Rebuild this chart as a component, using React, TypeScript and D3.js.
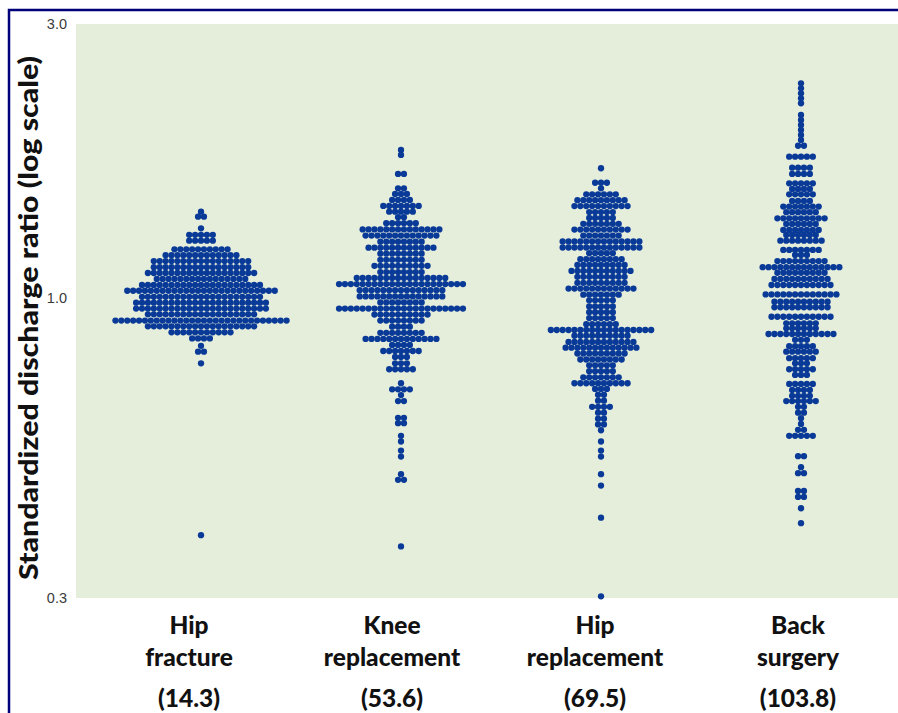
import React, { useEffect, useRef } from "react";
import * as d3 from "d3";

// Procedures shown along the x axis
const categories = ["Hip fracture", "Knee replacement", "Hip replacement", "Back surgery"];
const labelLines = [
  ["Hip", "fracture"],
  ["Knee", "replacement"],
  ["Hip", "replacement"],
  ["Back", "surgery"],
];
const procedureRates = ["(14.3)", "(53.6)", "(69.5)", "(103.8)"];
const yTicks = [0.3, 1.0, 3.0];

// Each row: [standardized discharge ratio, number of hospitals in that row]
const hipFracture: [number, number][] = [
  [1.413, 1], [1.385, 2], [1.322, 1], [1.288, 5], [1.258, 5],
  [1.215, 10], [1.187, 13], [1.159, 17], [1.131, 17], [1.105, 19],
  [1.079, 16], [1.053, 21], [1.029, 26], [1.004, 21], [0.981, 23],
  [0.958, 23], [0.936, 19], [0.913, 30], [0.892, 19], [0.871, 11],
  [0.850, 4], [0.825, 1], [0.806, 2], [0.769, 1], [0.386, 1],
];

const kneeReplacement: [number, number][] = [
  [1.810, 1], [1.774, 1], [1.644, 2], [1.552, 2], [1.517, 3], [1.481, 4],
  [1.446, 7], [1.413, 5], [1.382, 2], [1.349, 6], [1.316, 14], [1.284, 13],
  [1.253, 8], [1.223, 12], [1.194, 8], [1.165, 8], [1.137, 10], [1.109, 8],
  [1.083, 16], [1.057, 22], [1.031, 15], [1.006, 15], [0.982, 8], [0.958, 22],
  [0.935, 10], [0.913, 8], [0.891, 4], [0.869, 8], [0.848, 13], [0.828, 4],
  [0.808, 7], [0.789, 3], [0.769, 3], [0.751, 5], [0.710, 1], [0.693, 4],
  [0.677, 1], [0.661, 2], [0.618, 2], [0.605, 2], [0.575, 1], [0.562, 1],
  [0.542, 1], [0.529, 1], [0.493, 1], [0.482, 2], [0.369, 1],
];

const hipReplacement: [number, number][] = [
  [1.682, 1], [1.587, 3], [1.552, 1], [1.515, 6], [1.480, 9], [1.445, 10],
  [1.411, 5], [1.378, 5], [1.346, 7], [1.315, 10], [1.284, 7], [1.254, 14],
  [1.224, 14], [1.196, 5], [1.168, 8], [1.141, 9], [1.114, 11], [1.088, 9],
  [1.062, 9], [1.038, 12], [1.013, 7], [0.990, 5], [0.966, 5], [0.944, 5],
  [0.922, 5], [0.900, 6], [0.879, 18], [0.859, 10], [0.838, 12], [0.819, 13],
  [0.800, 9], [0.781, 8], [0.763, 5], [0.745, 5], [0.727, 7], [0.710, 10],
  [0.694, 3], [0.678, 2], [0.662, 2], [0.646, 4], [0.631, 2], [0.616, 2],
  [0.602, 2], [0.588, 1], [0.562, 1], [0.542, 1], [0.529, 1], [0.493, 1],
  [0.471, 1], [0.414, 1], [0.302, 1],
];

const backSurgery: [number, number][] = [
  [2.365, 1], [2.318, 1], [2.272, 1], [2.227, 1], [2.183, 1],
  [2.083, 1], [2.041, 1], [2.001, 1], [1.961, 1], [1.922, 1], [1.884, 1],
  [1.841, 2], [1.762, 5], [1.686, 4], [1.644, 4], [1.583, 5], [1.548, 4],
  [1.515, 5], [1.475, 4], [1.442, 7], [1.410, 6], [1.376, 9], [1.345, 6],
  [1.313, 7], [1.287, 6], [1.258, 8], [1.212, 7], [1.188, 3], [1.159, 9],
  [1.131, 14], [1.106, 9], [1.079, 10], [1.053, 11], [1.014, 13], [0.985, 10],
  [0.963, 10], [0.927, 11], [0.903, 6], [0.885, 6], [0.865, 12], [0.845, 3],
  [0.824, 5], [0.806, 6], [0.785, 5], [0.769, 3], [0.751, 5], [0.734, 3],
  [0.708, 5], [0.691, 4], [0.675, 4], [0.661, 6], [0.646, 2], [0.631, 2],
  [0.617, 1], [0.603, 1], [0.589, 2], [0.575, 5], [0.530, 2], [0.507, 1],
  [0.495, 2], [0.461, 2], [0.450, 2], [0.430, 1], [0.405, 1],
];

const seriesByCategory = [hipFracture, kneeReplacement, hipReplacement, backSurgery];

const WIDTH = 898;
const HEIGHT = 713;
const plot = { left: 76, right: 898, top: 24, bottom: 598 };
const DOT_STEP = 5.9;
const DOT_R = 3.15;
const DOT_COLOR = "#0a3a97";
const BG = "#e5eddb";
const LABEL_FONT = "Lato, 'Open Sans', sans-serif";

export default function App() {
  const axisRef = useRef<SVGGElement>(null);

  const x = d3.scalePoint<string>().domain(categories).range([201, 801]);
  const xLabel = d3.scalePoint<string>().domain(categories).range([189, 798]);
  const y = d3.scaleLog().domain([0.3, 3.0]).range([plot.bottom, plot.top]);

  useEffect(() => {
    if (!axisRef.current) return;
    const g = d3.select(axisRef.current);
    g.call(
      d3
        .axisLeft(y)
        .tickValues(yTicks)
        .tickSize(0)
        .tickPadding(9)
        .tickFormat(d3.format(".1f") as any)
    );
    g.select(".domain").remove();
    g.selectAll("text")
      .attr("font-family", "'Liberation Sans', Arial, sans-serif")
      .attr("font-size", 14.5)
      .attr("fill", "#3a3a3a");
  }, []);

  const dots: { cx: number; cy: number; key: string }[] = [];
  seriesByCategory.forEach((rows, ci) => {
    const cx0 = x(categories[ci]) as number;
    rows.forEach(([ratio, n], ri) => {
      const cy = y(ratio);
      for (let i = 0; i < n; i++) {
        dots.push({ cx: cx0 + (i - (n - 1) / 2) * DOT_STEP, cy, key: `${ci}-${ri}-${i}` });
      }
    });
  });

  return (
    <svg
      width={WIDTH}
      height={HEIGHT}
      style={{ position: "absolute", left: 0, top: 0, background: "#ffffff" }}
    >
      <rect
        x={plot.left}
        y={plot.top}
        width={plot.right - plot.left}
        height={plot.bottom - plot.top}
        fill={BG}
      />
      <path d={`M9,${HEIGHT + 5} V10 H${WIDTH + 5}`} fill="none" stroke="#00007a" strokeWidth={2.5} />
      <g ref={axisRef} transform={`translate(${plot.left},0)`} />
      <text
        transform={`translate(38,318) rotate(-90)`}
        textAnchor="middle"
        fontFamily={LABEL_FONT}
        fontWeight={900}
        fontSize={26}
        textLength={524}
        lengthAdjust="spacingAndGlyphs"
        fill="#111"
      >
        Standardized discharge ratio (log scale)
      </text>
      <g>
        {dots.map((d) => (
          <circle key={d.key} cx={d.cx} cy={d.cy} r={DOT_R} fill={DOT_COLOR} />
        ))}
      </g>
      <g fontFamily={LABEL_FONT} fontWeight={900} fontSize={24.5} fill="#111" textAnchor="middle">
        {categories.map((c, i) => {
          const cx = xLabel(c) as number;
          return (
            <g key={c}>
              <text x={cx} y={634}>{labelLines[i][0]}</text>
              <text x={cx} y={666}>{labelLines[i][1]}</text>
              <text x={cx} y={707}>{procedureRates[i]}</text>
            </g>
          );
        })}
      </g>
    </svg>
  );
}
